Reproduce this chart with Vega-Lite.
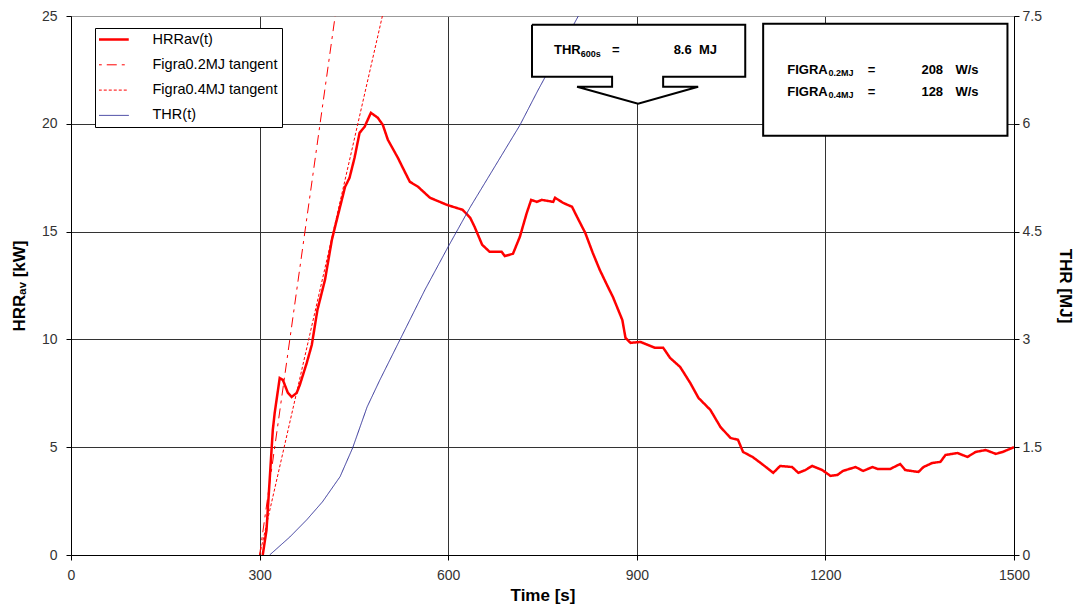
{
"$schema":"https://vega.github.io/schema/vega-lite/v6.json",
"width":943,"height":539,
"autosize":{"type":"none"},
"padding":{"left":71,"top":16,"right":65,"bottom":57},
"background":"white",
"config":{
 "font":"Liberation Sans",
 "view":{"stroke":"#999","strokeWidth":1},
 "axis":{"labelFont":"Liberation Sans","labelFontSize":14,"labelColor":"#333","titleFont":"Liberation Sans","titleFontSize":17,"titleFontWeight":"bold","titleColor":"#000","domainColor":"#000","domainWidth":1,"tickColor":"#000","tickSize":5,"gridColor":"#333","gridOpacity":1,"gridWidth":1}
},
"datasets":{
 "hrr":[
  {"series":"HRRav(t)","t":305,"v":0},{"series":"HRRav(t)","t":311,"v":1.16},{"series":"HRRav(t)","t":316,"v":3.48},{"series":"HRRav(t)","t":321,"v":5.8},{"series":"HRRav(t)","t":324,"v":6.59},{"series":"HRRav(t)","t":332,"v":8.21},{"series":"HRRav(t)","t":337,"v":8.12},{"series":"HRRav(t)","t":345,"v":7.52},{"series":"HRRav(t)","t":351,"v":7.33},{"series":"HRRav(t)","t":359,"v":7.52},{"series":"HRRav(t)","t":364,"v":7.89},{"series":"HRRav(t)","t":375,"v":8.91},{"series":"HRRav(t)","t":383,"v":9.74},{"series":"HRRav(t)","t":392,"v":11.37},{"series":"HRRav(t)","t":404,"v":12.76},{"series":"HRRav(t)","t":415,"v":14.62},{"series":"HRRav(t)","t":420,"v":15.22},{"series":"HRRav(t)","t":428,"v":16.15},{"series":"HRRav(t)","t":436,"v":17.08},{"series":"HRRav(t)","t":443,"v":17.49},{"series":"HRRav(t)","t":451,"v":18.42},{"series":"HRRav(t)","t":459,"v":19.58},{"series":"HRRav(t)","t":467,"v":19.86},{"series":"HRRav(t)","t":477,"v":20.51},{"series":"HRRav(t)","t":488,"v":20.28},{"series":"HRRav(t)","t":496,"v":19.95},{"series":"HRRav(t)","t":504,"v":19.26},{"series":"HRRav(t)","t":520,"v":18.42},{"series":"HRRav(t)","t":531,"v":17.77},{"series":"HRRav(t)","t":539,"v":17.31},{"series":"HRRav(t)","t":552,"v":17.08},{"series":"HRRav(t)","t":571,"v":16.57},{"series":"HRRav(t)","t":598,"v":16.24},{"series":"HRRav(t)","t":623,"v":16.01},{"series":"HRRav(t)","t":635,"v":15.64},{"series":"HRRav(t)","t":642,"v":15.22},{"series":"HRRav(t)","t":654,"v":14.39},{"series":"HRRav(t)","t":666,"v":14.06},{"series":"HRRav(t)","t":685,"v":14.06},{"series":"HRRav(t)","t":690,"v":13.87},{"series":"HRRav(t)","t":703,"v":13.97},{"series":"HRRav(t)","t":714,"v":14.76},{"series":"HRRav(t)","t":725,"v":15.87},{"series":"HRRav(t)","t":732,"v":16.47},{"series":"HRRav(t)","t":741,"v":16.38},{"series":"HRRav(t)","t":749,"v":16.47},{"series":"HRRav(t)","t":767,"v":16.38},{"series":"HRRav(t)","t":770,"v":16.57},{"series":"HRRav(t)","t":783,"v":16.33},{"series":"HRRav(t)","t":797,"v":16.15},{"series":"HRRav(t)","t":805,"v":15.68},{"series":"HRRav(t)","t":818,"v":14.94},{"series":"HRRav(t)","t":830,"v":14.01},{"series":"HRRav(t)","t":841,"v":13.23},{"series":"HRRav(t)","t":854,"v":12.44},{"series":"HRRav(t)","t":862,"v":11.97},{"series":"HRRav(t)","t":877,"v":10.9},{"series":"HRRav(t)","t":882,"v":10.07},{"series":"HRRav(t)","t":890,"v":9.84},{"series":"HRRav(t)","t":906,"v":9.88},{"series":"HRRav(t)","t":929,"v":9.61},{"series":"HRRav(t)","t":942,"v":9.61},{"series":"HRRav(t)","t":953,"v":9.14},{"series":"HRRav(t)","t":969,"v":8.72},{"series":"HRRav(t)","t":985,"v":7.98},{"series":"HRRav(t)","t":998,"v":7.29},{"series":"HRRav(t)","t":1017,"v":6.73},{"series":"HRRav(t)","t":1033,"v":5.94},{"series":"HRRav(t)","t":1049,"v":5.43},{"series":"HRRav(t)","t":1061,"v":5.34},{"series":"HRRav(t)","t":1069,"v":4.78},{"series":"HRRav(t)","t":1084,"v":4.55},{"series":"HRRav(t)","t":1101,"v":4.18},{"series":"HRRav(t)","t":1117,"v":3.81},{"series":"HRRav(t)","t":1128,"v":4.13},{"series":"HRRav(t)","t":1147,"v":4.08},{"series":"HRRav(t)","t":1157,"v":3.81},{"series":"HRRav(t)","t":1168,"v":3.94},{"series":"HRRav(t)","t":1179,"v":4.13},{"series":"HRRav(t)","t":1195,"v":3.94},{"series":"HRRav(t)","t":1208,"v":3.67},{"series":"HRRav(t)","t":1219,"v":3.71},{"series":"HRRav(t)","t":1228,"v":3.9},{"series":"HRRav(t)","t":1248,"v":4.08},{"series":"HRRav(t)","t":1260,"v":3.9},{"series":"HRRav(t)","t":1275,"v":4.08},{"series":"HRRav(t)","t":1283,"v":3.99},{"series":"HRRav(t)","t":1303,"v":3.99},{"series":"HRRav(t)","t":1319,"v":4.22},{"series":"HRRav(t)","t":1327,"v":3.94},{"series":"HRRav(t)","t":1348,"v":3.85},{"series":"HRRav(t)","t":1356,"v":4.08},{"series":"HRRav(t)","t":1370,"v":4.27},{"series":"HRRav(t)","t":1383,"v":4.32},{"series":"HRRav(t)","t":1391,"v":4.64},{"series":"HRRav(t)","t":1410,"v":4.73},{"series":"HRRav(t)","t":1426,"v":4.55},{"series":"HRRav(t)","t":1439,"v":4.78},{"series":"HRRav(t)","t":1455,"v":4.87},{"series":"HRRav(t)","t":1471,"v":4.69},{"series":"HRRav(t)","t":1482,"v":4.78},{"series":"HRRav(t)","t":1500,"v":5.0}
 ],
 "tangents":[
  {"series":"Figra0.2MJ tangent","t":300,"v":0},{"series":"Figra0.2MJ tangent","t":420.2,"v":25},
  {"series":"Figra0.4MJ tangent","t":300,"v":0},{"series":"Figra0.4MJ tangent","t":495.3,"v":25}
 ],
 "thr":[
  {"series":"THR(t)","t":316,"v":0},{"series":"THR(t)","t":348,"v":0.25},{"series":"THR(t)","t":375,"v":0.49},{"series":"THR(t)","t":400,"v":0.74},{"series":"THR(t)","t":428,"v":1.09},{"series":"THR(t)","t":448,"v":1.49},{"series":"THR(t)","t":471,"v":2.06},{"series":"THR(t)","t":491,"v":2.43},{"series":"THR(t)","t":563,"v":3.69},{"series":"THR(t)","t":600,"v":4.29},{"series":"THR(t)","t":635,"v":4.84},{"series":"THR(t)","t":714,"v":5.98},{"series":"THR(t)","t":743,"v":6.47},{"series":"THR(t)","t":807,"v":7.5},{"series":"THR(t)","t":900,"v":8.6},{"series":"THR(t)","t":1000,"v":9.45},{"series":"THR(t)","t":1100,"v":10.05},{"series":"THR(t)","t":1200,"v":10.45},{"series":"THR(t)","t":1300,"v":10.85},{"series":"THR(t)","t":1400,"v":11.3},{"series":"THR(t)","t":1500,"v":11.75}
 ],
 "callout":[
  {"i":0,"t":733.3,"v":24.59},{"i":1,"t":1072.5,"v":24.59},{"i":2,"t":1072.5,"v":22.18},{"i":3,"t":941.9,"v":22.18},{"i":4,"t":941.9,"v":21.72},{"i":5,"t":997.6,"v":21.72},{"i":6,"t":902,"v":20.93},{"i":7,"t":805,"v":21.72},{"i":8,"t":860.7,"v":21.72},{"i":9,"t":860.7,"v":22.18},{"i":10,"t":733.3,"v":22.18},{"i":11,"t":733.3,"v":24.59}
 ],
 "figrabox":[{"t1":1101,"t2":1489.6,"v1":19.44,"v2":24.64}],
 "labels":[
  {"t":768.3,"v":23.23,"label":"THR"},{"t":860.7,"v":23.23,"label":"="},{"t":958.6,"v":23.23,"label":"8.6\u00a0 MJ"},
  {"t":1139.3,"v":22.31,"label":"FIGRA"},{"t":1267.2,"v":22.31,"label":"="},{"t":1352.7,"v":22.31,"label":"208"},{"t":1406.8,"v":22.31,"label":"W/s"},
  {"t":1139.3,"v":21.3,"label":"FIGRA"},{"t":1267.2,"v":21.3,"label":"="},{"t":1352.7,"v":21.3,"label":"128"},{"t":1406.8,"v":21.3,"label":"W/s"}
 ],
 "subs":[
  {"t":810.8,"v":23.12,"label":"600s"},
  {"t":1205.1,"v":22.2,"label":"0.2MJ"},
  {"t":1205.1,"v":21.18,"label":"0.4MJ"}
 ]
},
"layer":[
 {
  "data":{"name":"hrr"},
  "mark":{"type":"line","clip":true,"strokeWidth":2.5},
  "encoding":{
   "x":{"field":"t","type":"quantitative","scale":{"domain":[0,1500],"nice":false},"axis":{"title":"Time [s]","format":"d","values":[0,300,600,900,1200,1500],"grid":true,"labelPadding":8,"titlePadding":5,"labelFlush":false}},
   "y":{"field":"v","type":"quantitative","scale":{"domain":[0,25],"nice":false},"axis":{"title":"HRRₐᵥ [kW]","orient":"left","format":"d","values":[0,5,10,15,20,25],"grid":true,"gridColor":{"condition":{"test":"datum.value===25","value":"#999"},"value":"#333"},"labelPadding":9,"titlePadding":13}},
   "color":{"field":"series","type":"nominal","title":null,"scale":{"domain":["HRRav(t)","Figra0.2MJ tangent","Figra0.4MJ tangent","THR(t)"],"range":["#ff0000","#ff0000","#ff0000","#333399"]},
     "legend":{"orient":"none","legendX":24,"legendY":12,"title":null,"symbolType":"stroke","symbolSize":2025,"clipHeight":15,"labelFont":"Liberation Sans","labelFontSize":14.5,"labelColor":"#000","labelOffset":39,"rowPadding":9.3,"padding":4,"strokeColor":"#000","fillColor":"#fff","labelLimit":300,
       "encode":{"symbols":{"update":{"strokeWidth":{"signal":"datum.value === 'HRRav(t)' ? 2.5 : 1"}}}}}},
   "strokeDash":{"field":"series","type":"nominal","title":null,"scale":{"domain":["HRRav(t)","Figra0.2MJ tangent","Figra0.4MJ tangent","THR(t)"],"range":[[1,0],[10,5,3,5],[3,2],[1,0]]},
     "legend":{"orient":"none","legendX":24,"legendY":12,"title":null,"symbolType":"stroke","symbolSize":2025,"clipHeight":15,"labelFont":"Liberation Sans","labelFontSize":14.5,"labelColor":"#000","labelOffset":39,"rowPadding":9.3,"padding":4,"strokeColor":"#000","fillColor":"#fff","labelLimit":300,
       "encode":{"symbols":{"update":{"strokeWidth":{"signal":"datum.value === 'HRRav(t)' ? 2.5 : 1"}}}}}}
  }
 },
 {
  "data":{"name":"tangents"},
  "mark":{"type":"line","clip":true,"strokeWidth":1},
  "encoding":{
   "x":{"field":"t","type":"quantitative"},
   "y":{"field":"v","type":"quantitative","scale":{"domain":[0,25],"nice":false},"axis":null},
   "color":{"field":"series","type":"nominal","title":null},
   "strokeDash":{"field":"series","type":"nominal","title":null}
  }
 },
 {
  "data":{"name":"thr"},
  "mark":{"type":"line","clip":true,"strokeWidth":1},
  "encoding":{
   "x":{"field":"t","type":"quantitative"},
   "y":{"field":"v","type":"quantitative","scale":{"domain":[0,7.5],"nice":false},"axis":{"title":"THR [MJ]","orient":"right","format":".1~f","values":[0,1.5,3,4.5,6,7.5],"grid":false,"labelPadding":3,"titlePadding":14}},
   "color":{"field":"series","type":"nominal","title":null},
   "strokeDash":{"field":"series","type":"nominal","title":null}
  }
 },
 {
  "data":{"name":"callout"},
  "mark":{"type":"line","fill":"white","stroke":"black","strokeWidth":2,"strokeJoin":"miter","clip":false},
  "encoding":{
   "x":{"field":"t","type":"quantitative"},
   "y":{"field":"v","type":"quantitative","scale":{"domain":[0,25],"nice":false},"axis":null},
   "order":{"field":"i","type":"quantitative"}
  }
 },
 {
  "data":{"name":"figrabox"},
  "mark":{"type":"rect","fill":"white","stroke":"black","strokeWidth":2},
  "encoding":{
   "x":{"field":"t1","type":"quantitative"},
   "x2":{"field":"t2"},
   "y":{"field":"v1","type":"quantitative","scale":{"domain":[0,25],"nice":false},"axis":null},
   "y2":{"field":"v2"}
  }
 },
 {
  "data":{"name":"labels"},
  "mark":{"type":"text","align":"left","baseline":"alphabetic","fontSize":13,"fontWeight":"bold","font":"Liberation Sans","color":"#000"},
  "encoding":{
   "x":{"field":"t","type":"quantitative"},
   "y":{"field":"v","type":"quantitative","scale":{"domain":[0,25],"nice":false},"axis":null},
   "text":{"field":"label"}
  }
 },
 {
  "data":{"name":"subs"},
  "mark":{"type":"text","align":"left","baseline":"alphabetic","fontSize":9,"fontWeight":"bold","font":"Liberation Sans","color":"#000"},
  "encoding":{
   "x":{"field":"t","type":"quantitative"},
   "y":{"field":"v","type":"quantitative","scale":{"domain":[0,25],"nice":false},"axis":null},
   "text":{"field":"label"}
  }
 }
],
"resolve":{"scale":{"y":"independent"}}
}
